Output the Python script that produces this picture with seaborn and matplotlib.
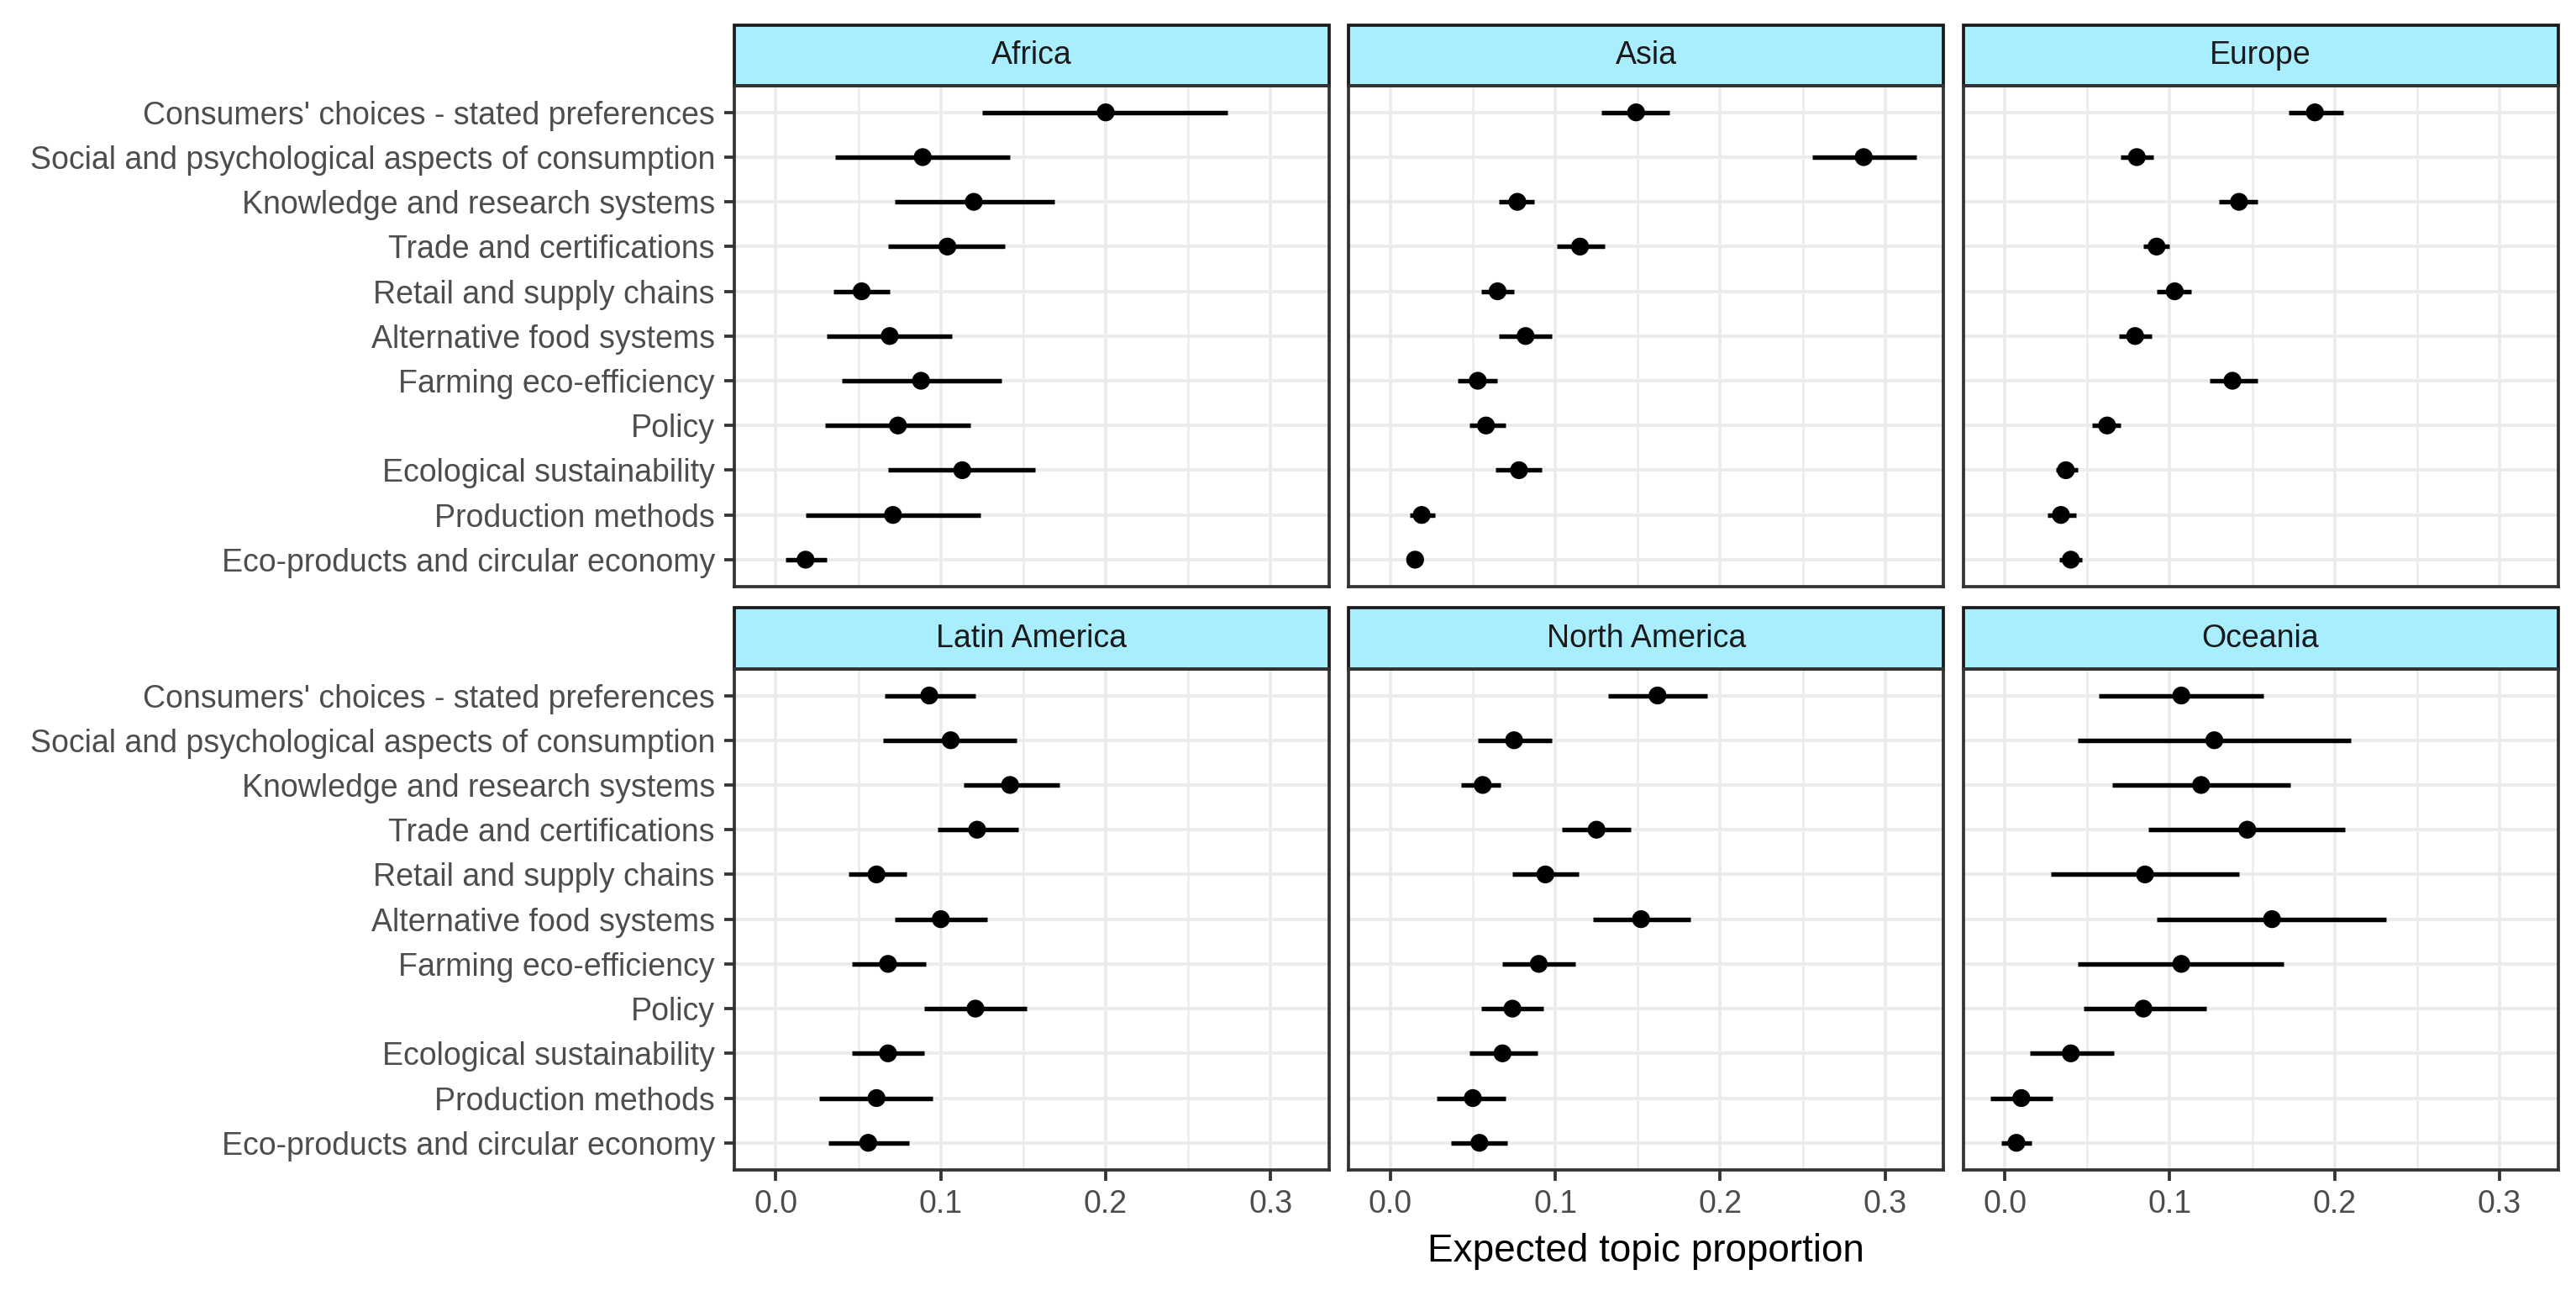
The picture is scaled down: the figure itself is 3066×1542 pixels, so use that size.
import matplotlib
matplotlib.use('Agg')
import matplotlib.pyplot as plt
from matplotlib.patches import Rectangle
from matplotlib.ticker import MultipleLocator
import pandas as pd
import seaborn as sns

# topics, top to bottom as in the figure
topics = [
    "Consumers' choices - stated preferences",
    'Social and psychological aspects of consumption',
    'Knowledge and research systems',
    'Trade and certifications',
    'Retail and supply chains',
    'Alternative food systems',
    'Farming eco-efficiency',
    'Policy',
    'Ecological sustainability',
    'Production methods',
    'Eco-products and circular economy',
]

regions = ['Africa', 'Asia', 'Europe', 'Latin America', 'North America', 'Oceania']

# point estimate, lower and upper bound per region
africa_est = [0.200, 0.089, 0.120, 0.104, 0.052, 0.069, 0.088, 0.074, 0.113, 0.071, 0.018]
africa_lo = [0.125, 0.036, 0.072, 0.068, 0.035, 0.031, 0.040, 0.030, 0.068, 0.018, 0.006]
africa_hi = [0.274, 0.142, 0.169, 0.139, 0.069, 0.107, 0.137, 0.118, 0.157, 0.124, 0.031]

asia_est = [0.149, 0.287, 0.077, 0.115, 0.065, 0.082, 0.053, 0.058, 0.078, 0.019, 0.015]
asia_lo = [0.128, 0.256, 0.066, 0.101, 0.055, 0.066, 0.041, 0.048, 0.064, 0.012, 0.013]
asia_hi = [0.169, 0.319, 0.087, 0.130, 0.075, 0.098, 0.065, 0.070, 0.092, 0.027, 0.017]

europe_est = [0.188, 0.080, 0.142, 0.092, 0.103, 0.079, 0.138, 0.062, 0.037, 0.034, 0.040]
europe_lo = [0.172, 0.070, 0.130, 0.084, 0.092, 0.069, 0.124, 0.053, 0.031, 0.026, 0.033]
europe_hi = [0.205, 0.090, 0.153, 0.100, 0.113, 0.089, 0.153, 0.070, 0.044, 0.043, 0.047]

latam_est = [0.093, 0.106, 0.142, 0.122, 0.061, 0.100, 0.068, 0.121, 0.068, 0.061, 0.056]
latam_lo = [0.066, 0.065, 0.114, 0.098, 0.044, 0.072, 0.046, 0.090, 0.046, 0.026, 0.032]
latam_hi = [0.121, 0.146, 0.172, 0.147, 0.079, 0.128, 0.091, 0.152, 0.090, 0.095, 0.081]

namerica_est = [0.162, 0.075, 0.056, 0.125, 0.094, 0.152, 0.090, 0.074, 0.068, 0.050, 0.054]
namerica_lo = [0.132, 0.053, 0.043, 0.104, 0.074, 0.123, 0.068, 0.055, 0.048, 0.028, 0.037]
namerica_hi = [0.192, 0.098, 0.067, 0.146, 0.114, 0.182, 0.112, 0.093, 0.089, 0.070, 0.071]

oceania_est = [0.107, 0.127, 0.119, 0.147, 0.085, 0.162, 0.107, 0.084, 0.040, 0.010, 0.007]
oceania_lo = [0.057, 0.044, 0.065, 0.087, 0.028, 0.092, 0.044, 0.048, 0.015, -0.009, -0.002]
oceania_hi = [0.157, 0.210, 0.173, 0.206, 0.142, 0.231, 0.169, 0.122, 0.066, 0.029, 0.016]

est_all = [africa_est, asia_est, europe_est, latam_est, namerica_est, oceania_est]
lo_all = [africa_lo, asia_lo, europe_lo, latam_lo, namerica_lo, oceania_lo]
hi_all = [africa_hi, asia_hi, europe_hi, latam_hi, namerica_hi, oceania_hi]

frames = []
for region, est, lo, hi in zip(regions, est_all, lo_all, hi_all):
    frames.append(pd.DataFrame({
        'region': region, 'topic': topics,
        'est': est, 'lo': lo, 'hi': hi,
    }))
df = pd.concat(frames, ignore_index=True)
df['pos'] = df['topic'].map({t: i for i, t in enumerate(topics)})

sns.set_style('white')
plt.rcParams['font.family'] = ['Liberation Sans', 'DejaVu Sans']

STRIP = '#A9EEFF'
GRID = '#EBEBEB'


def draw_range(data, **kws):
    ax = plt.gca()
    ax.hlines(data['pos'], data['lo'], data['hi'], color='black',
              lw=1.3, zorder=3)
    sns.scatterplot(data=data, x='est', y='pos', color='black', s=26,
                    edgecolor='none', linewidth=0, ax=ax, zorder=4)


g = sns.FacetGrid(df, col='region', col_wrap=3, col_order=regions,
                  sharex=True, sharey=True, height=2.5, aspect=1.0,
                  despine=False)
g.map_dataframe(draw_range)

fig = g.figure
fig.set_size_inches(10.22, 5.14)
fig.subplots_adjust(left=0.285, right=0.993, top=0.934, bottom=0.0975,
                    wspace=0.033, hspace=0.164)

g.set_titles('')
g.set_axis_labels('', '')

for i, (ax, region) in enumerate(zip(g.axes.flat, regions)):
    ax.set_xlim(-0.0253, 0.3354)
    ax.set_ylim(10.6, -0.6)
    ax.set_xticks([0.0, 0.1, 0.2, 0.3])
    ax.xaxis.set_minor_locator(MultipleLocator(0.05))
    ax.set_yticks(range(len(topics)))
    ax.set_axisbelow(True)
    ax.grid(which='major', color=GRID, lw=0.9)
    ax.grid(which='minor', axis='x', color=GRID, lw=0.6)
    for sp in ax.spines.values():
        sp.set_color('#333333')
        sp.set_linewidth(0.9)
    ax.tick_params(which='major', length=3, width=0.9, color='#333333',
                   labelsize=9, labelcolor='#4D4D4D', pad=2.5)
    ax.tick_params(which='minor', length=0)
    if i % 3 == 0:
        ax.set_yticklabels(topics)
        ax.tick_params(axis='y', left=True)
    else:
        ax.tick_params(axis='y', left=False, labelleft=False)
    if i >= 3:
        ax.set_xticklabels(['0.0', '0.1', '0.2', '0.3'])
        ax.tick_params(axis='x', bottom=True, labelbottom=True)
    else:
        ax.tick_params(axis='x', bottom=False, labelbottom=False)

    # facet strip
    ax.add_patch(Rectangle((0, 1), 1, 0.121, transform=ax.transAxes,
                           facecolor=STRIP, edgecolor='#1A1A1A', lw=0.9,
                           clip_on=False))
    ax.text(0.5, 1.0605, region, transform=ax.transAxes, ha='center',
            va='center', fontsize=9, color='#1A1A1A')

mid = g.axes.flat[4]
mid.set_xlabel('Expected topic proportion', fontsize=11, color='black',
               labelpad=4)

fig.savefig('out.png', dpi=300)
